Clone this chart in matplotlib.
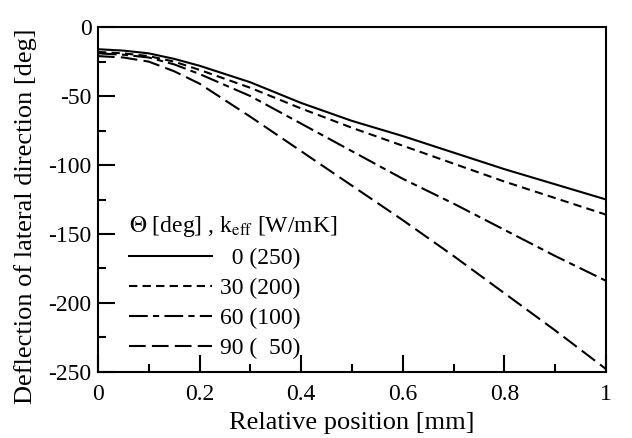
import numpy as np
import matplotlib
matplotlib.use("Agg")
import matplotlib.pyplot as plt
from matplotlib.ticker import MultipleLocator

plt.rcParams["font.family"] = ["Liberation Serif", "DejaVu Serif"]
plt.rcParams["mathtext.fontset"] = "stix"
plt.rcParams["axes.unicode_minus"] = False

# relative position [mm]
pos = [0.0, 0.05, 0.1, 0.15, 0.2, 0.3, 0.4, 0.5, 0.6, 0.7, 0.8, 0.9, 1.0]

# deflection of lateral direction [deg]
defl_0 = [-16, -17, -19, -23, -28, -40, -55, -68, -79, -91, -103, -114, -125]
defl_30 = [-18, -19, -21, -25, -31, -44, -59, -73, -86, -99, -112, -124, -136]
defl_60 = [-19, -20, -22, -27, -34, -50, -70, -90, -110, -128, -147, -166, -184]
defl_90 = [-21, -22, -25, -32, -41, -65, -90, -115, -140, -166, -193, -220, -248]

labels = ["  0 (250)", "30 (200)", "60 (100)", "90 (  50)"]
dashes = [(None, None), (4, 2.5), (9, 2.5, 3, 2.5), (8, 3)]


def main():
    fig = plt.figure(figsize=(6.32, 4.38), dpi=100)
    ax = fig.add_axes([0.155, 0.151, 0.804, 0.787])

    series = [defl_0, defl_30, defl_60, defl_90]
    for ys, lab, d in zip(series, labels, dashes):
        line, = ax.plot(pos, ys, color="black", lw=1.5, label=lab)
        if d[0] is not None:
            line.set_dashes(d)

    ax.set_xlim(0, 1)
    ax.set_ylim(-250, 0)
    ax.xaxis.set_minor_locator(MultipleLocator(0.1))
    ax.yaxis.set_major_locator(MultipleLocator(50))
    ax.yaxis.set_minor_locator(MultipleLocator(25))
    ax.set_xticks([0, 0.2, 0.4, 0.6, 0.8, 1.0])
    ax.set_xticklabels(["0", "0.2", "0.4", "0.6", "0.8", "1"])

    ax.tick_params(which="both", direction="in", width=1.5, labelsize=17,
                   top=False, right=False)
    ax.tick_params(which="major", length=12)
    ax.tick_params(which="minor", length=6)
    ax.tick_params(axis="x", pad=9)
    ax.tick_params(axis="y", pad=4.5)
    for s in ax.spines.values():
        s.set_linewidth(1.5)

    ax.set_xlabel("Relative position [mm]", fontsize=19)
    ax.xaxis.set_label_coords(0.5, -0.115)
    ax.set_ylabel("Deflection of lateral direction [deg]", fontsize=19)
    ax.yaxis.set_label_coords(-0.12, 0.45)

    ax.legend(loc="lower left", bbox_to_anchor=(0.02, -0.025),
              frameon=False, fontsize=17, handlelength=3.5,
              handletextpad=0.35, labelspacing=0.36,
              title=r"$\Theta$ [deg] , k$_{\rm eff}$ [W/mK]",
              title_fontsize=17, alignment="left")

    fig.savefig("out.png", dpi=100)


if __name__ == "__main__":
    main()
